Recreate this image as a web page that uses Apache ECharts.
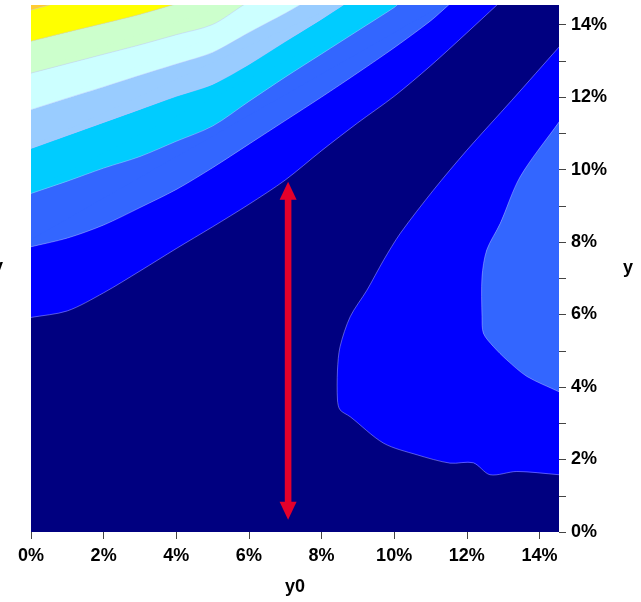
<!DOCTYPE html>
<html>
<head>
<meta charset="utf-8">
<title>y vs y0</title>
<script src="https://cdn.jsdelivr.net/npm/echarts@6/dist/echarts.min.js"></script>
<style>
  html, body { margin: 0; padding: 0; background: #fff; }
  #chart { width: 641px; height: 602px; }
</style>
</head>
<body>
<div id="chart"></div>
<script>
// Axis extent (percent) and tick positions
const axisMax = 14.54;
const xTickValues = [0, 2, 4, 6, 8, 10, 12, 14];
const yTickValues = [0, 1, 2, 3, 4, 5, 6, 7, 8, 9, 10, 11, 12, 13, 14];
const yLabelValues = [0, 2, 4, 6, 8, 10, 12, 14];

// Contour level boundaries [y0 %, y %], upper-left family (each region lies above its curve)
const edgeBlue      = [[0,5.92],[1,6.1],[2,6.6],[3,7.2],[4,7.82],[5,8.42],[6,9.04],[7,9.71],[8,10.52],[9,11.29],[10,12.02],[11,12.86],[12,13.77],[12.83,14.54]];
const edgeRoyal     = [[0,7.87],[1,8.11],[2,8.47],[3,8.95],[4,9.45],[5,10.05],[6,10.7],[7,11.35],[8,12.0],[9,12.67],[10,13.36],[11,14.1],[11.5,14.54]];
const edgeCyan      = [[0,9.34],[1,9.68],[2,10.04],[3,10.36],[4,10.78],[5,11.2],[6,11.88],[7,12.55],[8,13.19],[9,13.83],[10,14.47],[10.08,14.54]];
const edgeLightBlue = [[0,10.58],[1,10.94],[2,11.3],[3,11.66],[4,12.02],[5,12.35],[6,12.9],[7,13.53],[8,14.15],[8.6,14.54]];
const edgeLightCyan = [[0,11.65],[1,11.97],[2,12.28],[3,12.6],[4,12.91],[5,13.23],[6,13.78],[7,14.31],[7.4,14.54]];
const edgeGreen     = [[0,12.66],[1,12.92],[2,13.18],[3,13.44],[4,13.72],[5,14.0],[5.85,14.54]];
const edgeYellow    = [[0,13.54],[1,13.79],[2,14.03],[3,14.28],[3.9,14.54]];
const edgeOrange    = [[0,14.4],[0.5,14.54]];

// Lower-right family (each region lies to the right of its curve, closed along the right edge)
const edgeRightBlue  = [[14.54,13.38],[13.24,11.91],[12.0,10.53],[11.08,9.43],[10.17,8.24],[9.71,7.5],[9.25,6.67],[8.79,5.94],[8.51,5.11],[8.44,4.47],[8.44,3.64],[8.51,3.37],[8.79,3.18],[9.71,2.45],[10.63,2.13],[11.54,1.9],[12.18,1.91],[12.64,1.58],[13.38,1.67],[14.54,1.58]];
const edgeRightRoyal = [[14.54,11.31],[13.47,9.8],[12.92,8.51],[12.55,7.78],[12.42,7.04],[12.42,5.94],[12.46,5.48],[12.74,5.11],[13.1,4.75],[13.66,4.29],[14.54,3.87]];

// Marked interval at y0 = 7.08 %, from y = 0.34 % to y = 9.66 %
const arrowX = 7.08;
const arrowFrom = 0.34;
const arrowTo = 9.66;

// Fill colours for the level bands; "outside" is the corner the region closes through
const colNavy = '#000080';
const regions = [
  { edge: edgeBlue,       outside: [[-1, axisMax + 1]], color: '#0000FF' },
  { edge: edgeRoyal,      outside: [[-1, axisMax + 1]], color: '#3366FF' },
  { edge: edgeCyan,       outside: [[-1, axisMax + 1]], color: '#00CCFF' },
  { edge: edgeLightBlue,  outside: [[-1, axisMax + 1]], color: '#99CCFF' },
  { edge: edgeLightCyan,  outside: [[-1, axisMax + 1]], color: '#CCFFFF' },
  { edge: edgeGreen,      outside: [[-1, axisMax + 1]], color: '#CCFFCC' },
  { edge: edgeYellow,     outside: [[-1, axisMax + 1]], color: '#FFFF00' },
  { edge: edgeOrange,     outside: [[-1, axisMax + 1]], color: '#FFCC33' },
  { edge: edgeRightBlue,  outside: [[axisMax + 1, 0], [axisMax + 1, axisMax + 1]], color: '#0000FF' },
  { edge: edgeRightRoyal, outside: [[axisMax + 1, 0], [axisMax + 1, axisMax + 1]], color: '#3366FF' }
];

const textFont = {
  fontFamily: '"Liberation Sans", Arial, Helvetica, sans-serif',
  fontWeight: 'bold',
  fontSize: 18,
  color: '#000'
};

const chart = echarts.init(document.getElementById('chart'), null, { renderer: 'canvas' });

// Extend an open edge slightly beyond the plot so the smoothed outline meets the frame cleanly
function extend(edge) {
  const a = edge[0], b = edge[1];
  const n = edge.length;
  const c = edge[n - 2], d = edge[n - 1];
  const head = [a[0] - (b[0] - a[0]) * 0.6, a[1] - (b[1] - a[1]) * 0.6];
  const tail = [d[0] + (d[0] - c[0]) * 0.6, d[1] + (d[1] - c[1]) * 0.6];
  return [head].concat(edge, [tail]);
}

chart.setOption({
  animation: false,
  grid: {
    left: 31, top: 5, width: 528, height: 527,
    outerBoundsMode: 'none',
    containLabel: false,
    show: true, backgroundColor: colNavy, borderWidth: 0
  },
  // Left-hand axis title, running off the page edge
  graphic: [
    {
      type: 'text', left: -7, top: 258, silent: true,
      style: { text: 'y', fill: '#000', fontFamily: textFont.fontFamily, fontWeight: 'bold', fontSize: 18 }
    }
  ],
  xAxis: {
    type: 'value', min: 0, max: axisMax, position: 'bottom',
    axisLine: { show: false, onZero: false },
    splitLine: { show: false },
    axisTick: { show: true, length: 7, customValues: xTickValues, lineStyle: { color: '#444', width: 1 } },
    axisLabel: Object.assign({ customValues: xTickValues, margin: 15, formatter: v => v + '%' }, textFont),
    name: 'y0', nameLocation: 'middle', nameGap: 46,
    nameTextStyle: textFont
  },
  yAxis: {
    type: 'value', min: 0, max: axisMax, position: 'right',
    axisLine: { show: false, onZero: false },
    splitLine: { show: false },
    axisTick: { show: true, length: 7, customValues: yTickValues, lineStyle: { color: '#444', width: 1 } },
    axisLabel: Object.assign({ customValues: yLabelValues, margin: 12, formatter: v => v + '%' }, textFont),
    name: 'y', nameLocation: 'middle', nameRotate: 0, nameGap: 64,
    nameTextStyle: textFont
  },
  series: [
    {
      type: 'custom',
      silent: true,
      clip: true,
      data: regions.map((r, i) => [i]),
      encode: { x: -1, y: -1 },
      renderItem: function (params, api) {
        const r = regions[params.dataIndex];
        const rect = params.coordSys;
        const outline = extend(r.edge).map(p => api.coord(p));
        const closing = r.outside.map(p => api.coord(p));
        return {
          type: 'group',
          clipPath: { type: 'rect', shape: { x: rect.x, y: rect.y, width: rect.width, height: rect.height } },
          children: [
            {
              type: 'polygon',
              shape: { points: outline.concat(closing) },
              style: { fill: r.color }
            },
            {
              type: 'polyline',
              shape: { points: outline, smooth: 0.3 },
              style: { fill: r.color, stroke: 'rgba(190,190,255,0.45)', lineWidth: 1 }
            }
          ]
        };
      }
    },
    {
      type: 'custom',
      silent: true,
      data: [[arrowX, arrowFrom, arrowTo]],
      renderItem: function (params, api) {
        const x = api.value(0);
        const pBot = api.coord([x, api.value(1)]);
        const pTop = api.coord([x, api.value(2)]);
        const red = '#E4002B';
        const headL = 18, headW = 17, shaft = 6.6;
        const cx = pTop[0];
        return {
          type: 'group',
          children: [
            {
              type: 'rect',
              shape: { x: cx - shaft / 2, y: pTop[1] + headL - 1, width: shaft, height: (pBot[1] - pTop[1]) - 2 * headL + 2 },
              style: { fill: red }
            },
            {
              type: 'polygon',
              shape: { points: [[cx, pTop[1]], [cx - headW / 2, pTop[1] + headL], [cx + headW / 2, pTop[1] + headL]] },
              style: { fill: red }
            },
            {
              type: 'polygon',
              shape: { points: [[cx, pBot[1]], [cx - headW / 2, pBot[1] - headL], [cx + headW / 2, pBot[1] - headL]] },
              style: { fill: red }
            }
          ]
        };
      }
    }
  ]
});
</script>
</body>
</html>
